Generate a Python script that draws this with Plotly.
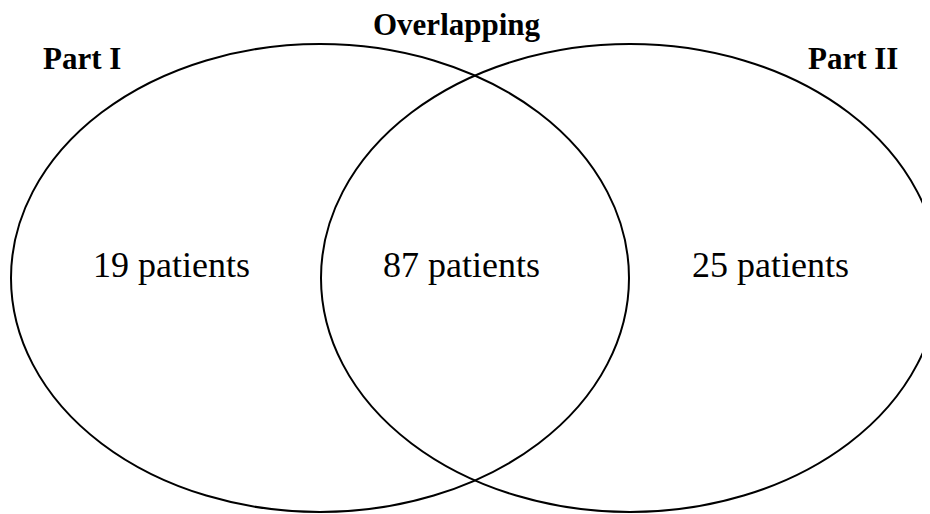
import plotly.graph_objects as go

set_names = ["Part I", "Part II"]
region_names = ["Part I only", "Overlapping", "Part II only"]
region_counts = [19, 87, 25]
overlap_title = "Overlapping"

W, H = 930, 514
OFF = 8  # page body margin compensation
fig = go.Figure()

# ellipse geometry (page pixel space)
cy, rx, ry = 278, 309, 234
centers = [320, 630]
for cx in centers:
    fig.add_shape(type="circle", xref="x", yref="y",
                  x0=cx - rx - OFF, x1=cx + rx - OFF,
                  y0=cy - ry - OFF, y1=cy + ry - OFF,
                  line=dict(color="black", width=2), fillcolor="rgba(0,0,0,0)")

font_serif = "Liberation Serif, Times New Roman, serif"
region_x = [171, 461, 770]
for x, n in zip(region_x, region_counts):
    fig.add_annotation(x=x - OFF, y=265 - OFF, text=f"{n} patients", showarrow=False,
                       font=dict(family=font_serif, size=36, color="black"),
                       xref="x", yref="y")

for x, name in zip([82, 853], set_names):
    fig.add_annotation(x=x - OFF, y=58 - OFF, text=f"<b>{name}</b>", showarrow=False,
                       font=dict(family=font_serif, size=31, color="black"),
                       xref="x", yref="y")
fig.add_annotation(x=457 - OFF, y=24 - OFF, text=f"<b>{overlap_title}</b>", showarrow=False,
                   font=dict(family=font_serif, size=31, color="black"),
                   xref="x", yref="y")

fig.update_layout(width=W, height=H, margin=dict(l=0, r=0, t=0, b=0),
                  plot_bgcolor="white", paper_bgcolor="white", showlegend=False)
fig.update_xaxes(range=[0, W], visible=False, fixedrange=True)
fig.update_yaxes(range=[H, 0], visible=False, fixedrange=True)
fig.write_html("out.html")
